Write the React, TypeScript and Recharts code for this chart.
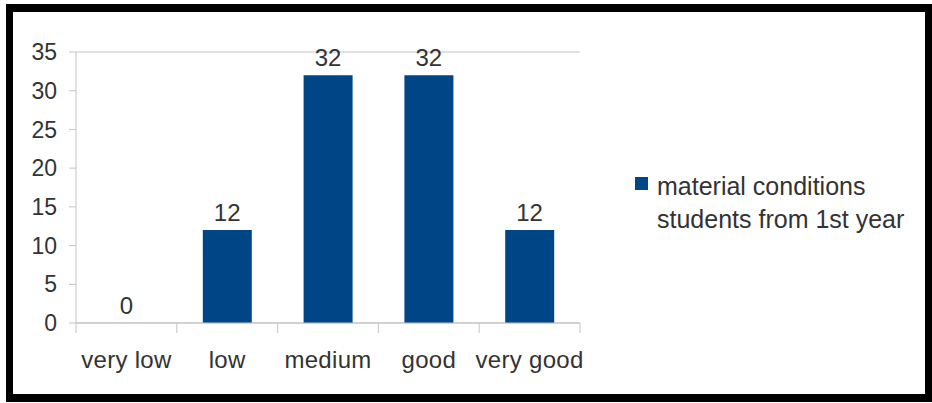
import { ComposedChart, Bar, Line, XAxis, YAxis, CartesianGrid, Legend, LabelList } from "recharts";

const categories = ["very low", "low", "medium", "good", "very good"];
const students = [0, 12, 32, 32, 12];
const yTicks = [0, 5, 10, 15, 20, 25, 30, 35];
const seriesName = "material conditions students from 1st year";

const BLUE = "#004586";
const GRID = "#c4c4c4";
const TEXT = "#333333";
const FONT = "'Liberation Sans', Arial, sans-serif";

const data = categories.map((c, i) => ({ category: c, value: students[i] }));

const TICK_SIZE = 10;
const TICK_MARGIN = 18;
const LEGEND_WIDTH = 290;

// category label plus the boundary tick marks between categories
function CategoryTick(props: any) {
  const { x, y, payload, width, visibleTicksCount, index } = props;
  const band = width / visibleTicksCount;
  const axisY = y - TICK_MARGIN - TICK_SIZE;
  const left = x - band / 2;
  const right = x + band / 2;
  return (
    <g>
      <line x1={left} y1={axisY} x2={left} y2={axisY + TICK_SIZE} stroke={GRID} />
      {index === visibleTicksCount - 1 && (
        <line x1={right} y1={axisY} x2={right} y2={axisY + TICK_SIZE} stroke={GRID} />
      )}
      <text x={x} y={y} dy="0.71em" textAnchor="middle" fill={TEXT} fontSize={24} fontFamily={FONT} letterSpacing={0.3}>
        {payload.value}
      </text>
    </g>
  );
}

function LegendContent() {
  return (
    <div style={{ display: "flex", alignItems: "flex-start", fontFamily: FONT, width: LEGEND_WIDTH }}>
      <span style={{ width: 13, height: 13, background: BLUE, marginTop: 7, flex: "none" }} />
      <span style={{ marginLeft: 9, width: 262, fontSize: 25, lineHeight: "33px", color: TEXT }}>{seriesName}</span>
    </div>
  );
}

export default function App() {
  return (
    <div style={{ position: "absolute", left: 0, top: 0, width: 932, height: 403, background: "#fff" }}>
      <ComposedChart
        width={932}
        height={403}
        data={data}
        margin={{ top: 52, right: 352 - LEGEND_WIDTH, left: 0, bottom: 0 }}
      >
        <CartesianGrid vertical={false} stroke={GRID} />
        <XAxis
          dataKey="category"
          tick={<CategoryTick />}
          tickLine={false}
          tickSize={TICK_SIZE}
          tickMargin={TICK_MARGIN}
          axisLine={{ stroke: GRID }}
          interval={0}
          height={80}
        />
        <YAxis
          yAxisId="left"
          domain={[0, 35]}
          ticks={yTicks}
          interval={0}
          width={76}
          tickSize={7}
          tickMargin={12}
          tickLine={{ stroke: GRID }}
          axisLine={{ stroke: GRID }}
          tick={{ fill: TEXT, fontSize: 23, fontFamily: FONT }}
        />
        <YAxis
          yAxisId="right"
          orientation="right"
          domain={[0, 35]}
          width={0}
          tick={false}
          tickLine={false}
          axisLine={{ stroke: GRID }}
        />
        <Legend
          layout="vertical"
          align="right"
          verticalAlign="top"
          content={<LegendContent />}
          wrapperStyle={{ left: 635, top: 170, width: LEGEND_WIDTH }}
        />
        <Bar yAxisId="left" dataKey="value" name={seriesName} fill={BLUE} barSize={49} isAnimationActive={false} />
        {/* invisible line that carries the value labels, so the zero bar gets one too */}
        <Line
          yAxisId="left"
          dataKey="value"
          stroke="none"
          dot={false}
          activeDot={false}
          legendType="none"
          isAnimationActive={false}
        >
          <LabelList
            dataKey="value"
            position="top"
            offset={9}
            fill={TEXT}
            fontSize={24}
            fontFamily={FONT}
          />
        </Line>
      </ComposedChart>
      <div
        style={{
          position: "absolute",
          left: 6,
          top: 4,
          width: 926,
          height: 398,
          boxSizing: "border-box",
          borderStyle: "solid",
          borderColor: "#000",
          borderWidth: "8px 7px 8px 7px",
          pointerEvents: "none",
        }}
      />
    </div>
  );
}
